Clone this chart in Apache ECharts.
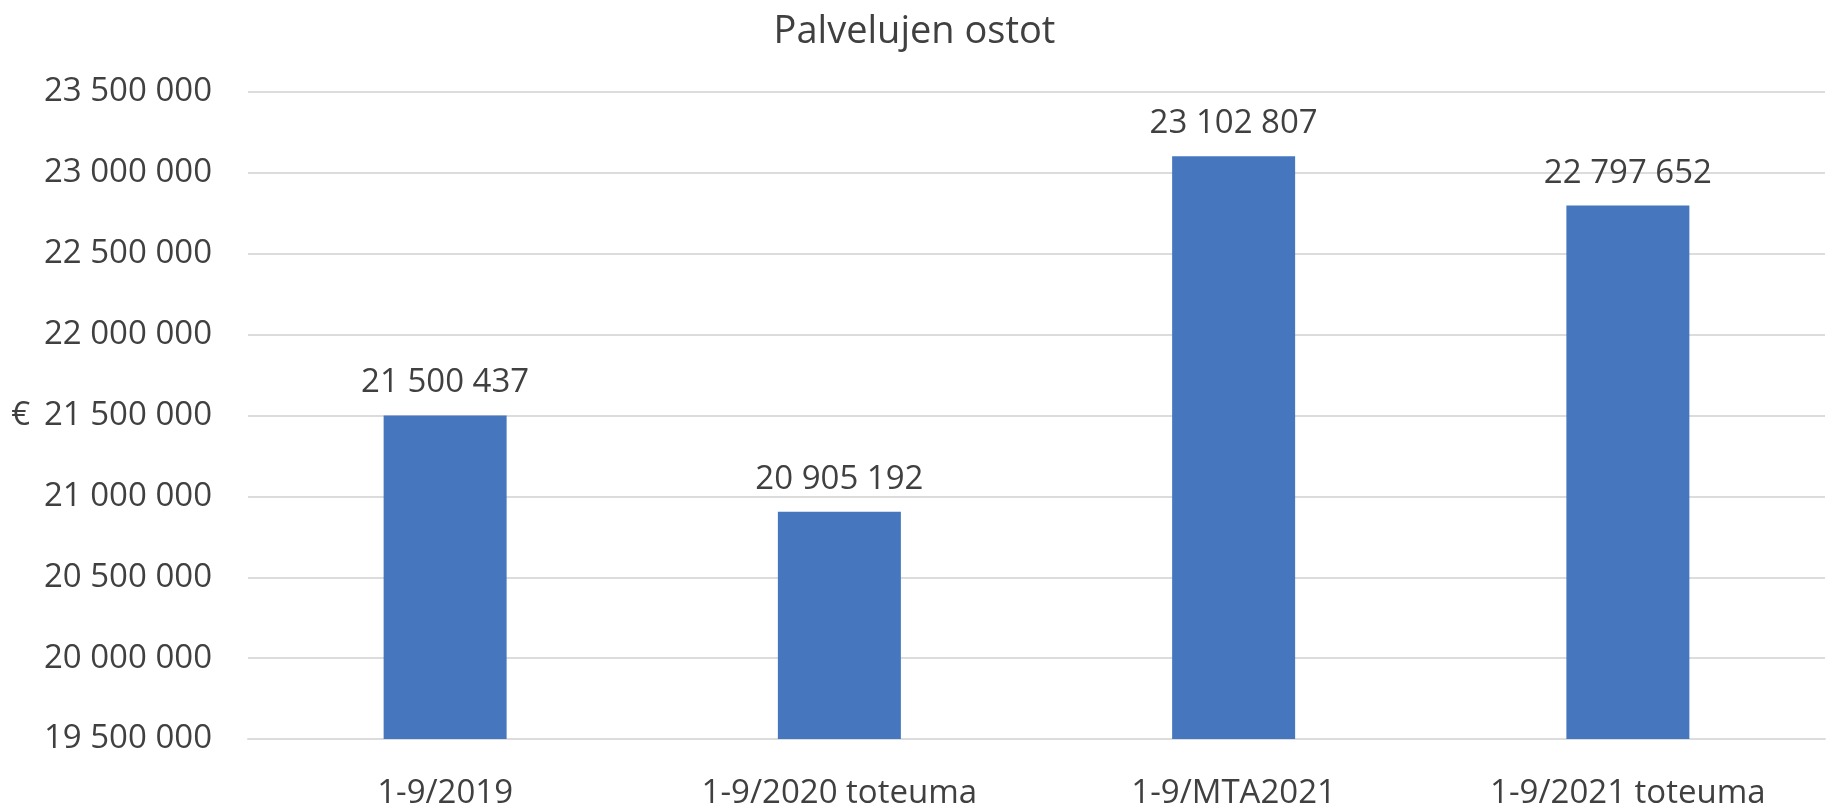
<!DOCTYPE html>
<html>
<head>
<meta charset="utf-8">
<script src="https://cdn.jsdelivr.net/npm/echarts@6/dist/echarts.min.js"></script>
<style>
  html, body { margin: 0; padding: 0; background: #fff; }
  #chart { width: 1829px; height: 804px; }
</style>
</head>
<body>
<div id="chart"></div>
<script>
// data
var categories = ['1-9/2019', '1-9/2020 toteuma', '1-9/MTA2021', '1-9/2021 toteuma']
var values = [21500437, 20905192, 23102807, 22797652]
var yMin = 19500000
var yMax = 23500000
var yStep = 500000

function spaced (v) {
  return String(Math.round(v)).replace(/\B(?=(\d{3})+(?!\d))/g, ' ')
}

var textColor = '#404040'
var font = '"Open Sans", sans-serif'

var chart = echarts.init(document.getElementById('chart'))
var option = {
  animation: false,
  title: {
    text: 'Palvelujen ostot',
    left: 'center',
    top: 8,
    textStyle: {
      color: textColor,
      fontFamily: font,
      fontSize: 38,
      fontWeight: 'normal'
    }
  },
  grid: {
    left: 248, right: 4, top: 92, bottom: 65,
    outerBoundsMode: 'none'
  },
  xAxis: {
    type: 'category',
    data: categories,
    axisLine: { lineStyle: { color: '#DCDCDC', width: 2 } },
    axisTick: { show: false },
    axisLabel: {
      color: textColor,
      fontFamily: font,
      fontSize: 33,
      margin: 38
    }
  },
  yAxis: {
    type: 'value',
    min: yMin,
    max: yMax,
    interval: yStep,
    name: '€',
    nameLocation: 'middle',
    nameRotate: 0,
    nameGap: 218,
    nameTextStyle: { color: textColor, fontFamily: font, fontSize: 33 },
    axisLine: { show: false },
    axisTick: { show: false },
    splitLine: { lineStyle: { color: '#DCDCDC', width: 2 } },
    axisLabel: {
      color: textColor,
      fontFamily: font,
      fontSize: 33,
      margin: 36,
      formatter: function (v) { return spaced(v) }
    }
  },
  series: [{
    type: 'bar',
    data: values,
    barWidth: 123,
    itemStyle: { color: '#4677BE' },
    label: {
      show: true,
      position: 'top',
      distance: 16,
      color: textColor,
      fontFamily: font,
      fontSize: 33,
      formatter: function (p) { return spaced(p.value) }
    }
  }]
}
chart.setOption(option)
</script>
</body>
</html>
